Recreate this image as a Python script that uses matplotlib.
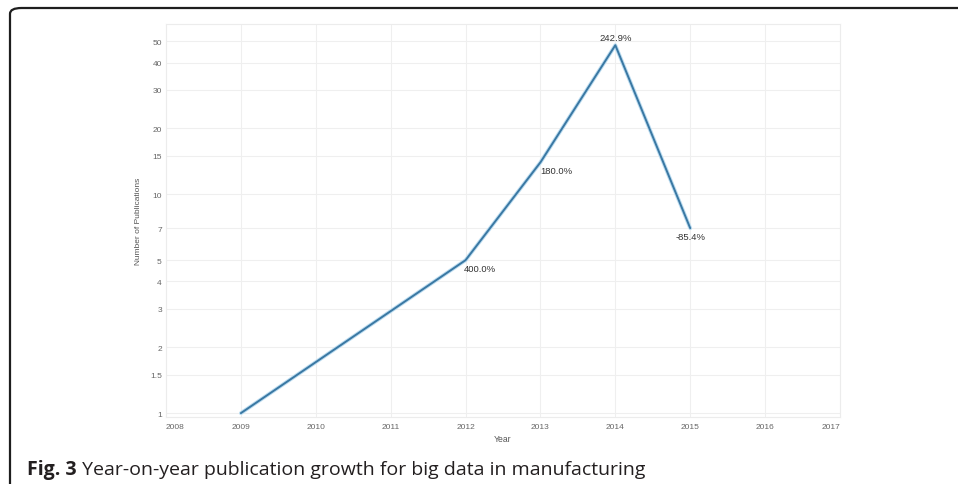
import matplotlib
matplotlib.use("Agg")
import matplotlib.pyplot as plt
from matplotlib.patches import FancyBboxPatch
from matplotlib.ticker import FixedLocator, FixedFormatter, NullLocator

years = [2009, 2012, 2013, 2014, 2015]
publications = [1, 5, 14, 48, 7]
growth_labels = ["", "400.0%", "180.0%", "242.9%", "-85.4%"]
x_ticks = [2008, 2009, 2010, 2011, 2012, 2013, 2014, 2015, 2016, 2017]
y_ticks = [1, 1.5, 2, 3, 4, 5, 7, 10, 15, 20, 30, 40, 50]
y_tick_labels = ["1", "1.5", "2", "3", "4", "5", "7", "10", "15", "20", "30", "40", "50"]
caption_bold = "Fig. 3"
caption_rest = " Year-on-year publication growth for big data in manufacturing"

W, H = 958, 485
fig = plt.figure(figsize=(W / 100, H / 100), dpi=100)
fig.patch.set_facecolor("white")

# frame with rounded top-left corner
frame = FancyBboxPatch((10 / W, -0.2), 1.2, 1 - 9 / H + 0.2,
                       boxstyle="round,pad=0,rounding_size=0.012",
                       transform=fig.transFigure, fill=False,
                       edgecolor="#1e1e1e", linewidth=1.6, clip_on=False)
fig.patches.append(frame)

left, right, top, bottom = 166, 840, 25, 418
ax = fig.add_axes([left / W, 1 - bottom / H, (right - left) / W, (bottom - top) / H])
ax.set_yscale("log")
ax.set_xlim(2008, 2017)
ax.set_ylim(0.96, 60)

ax.yaxis.set_major_locator(FixedLocator(y_ticks))
ax.yaxis.set_major_formatter(FixedFormatter(y_tick_labels))
ax.yaxis.set_minor_locator(NullLocator())
ax.set_xticks(x_ticks)
ax.set_xticklabels([str(y) for y in x_ticks])

ax.grid(True, which="major", color="#efefef", linewidth=0.8)
ax.set_axisbelow(True)
for s in ax.spines.values():
    s.set_color("#ececec")
    s.set_linewidth(0.8)

ax.tick_params(axis="y", length=0, labelsize=6, labelcolor="#666666", pad=3)
ax.tick_params(axis="x", length=0, labelsize=6, labelcolor="#666666", pad=4.5)
for lbl in ax.get_xticklabels() + ax.get_yticklabels():
    lbl.set_family("Liberation Sans")
xl = ax.get_xticklabels()
xl[0].set_horizontalalignment("left")
xl[-1].set_horizontalalignment("right")

ax.plot(years, publications, color="#bcdcf0", linewidth=2.8, solid_capstyle="round", zorder=3)
ax.plot(years, publications, color="#3a78a3", linewidth=1.4, solid_capstyle="round", zorder=4)

offsets = {
    2012: ((-1.5, -3), "left", "top"),
    2013: ((0, -3), "left", "top"),
    2014: ((0, 2), "center", "bottom"),
    2015: ((0, -2.5), "center", "top"),
}
for x, y, t in zip(years, publications, growth_labels):
    if not t:
        continue
    (dx, dy), ha, va = offsets[x]
    ax.annotate(t, (x, y), xytext=(dx, dy), textcoords="offset points",
                ha=ha, va=va, fontsize=6.8, color="#333333",
                family="Liberation Sans", zorder=5)

ax.set_ylabel("Number of Publications", fontsize=6, color="#555555",
              family="Liberation Sans", labelpad=6)
ax.set_xlabel("Year", fontsize=6.2, color="#555555", family="Liberation Sans",
              labelpad=3)

# caption
cy = 1 - 475 / H
t1 = fig.text(27 / W, cy, caption_bold, fontsize=14, fontweight="bold",
              family="Open Sans", color="#231f20", va="baseline", ha="left")
fig.canvas.draw()
bb = t1.get_window_extent()
fig.text(bb.x1 / W, cy, caption_rest, fontsize=14, family="Open Sans",
         color="#231f20", va="baseline", ha="left")

fig.savefig("out.png", dpi=100, facecolor="white")
